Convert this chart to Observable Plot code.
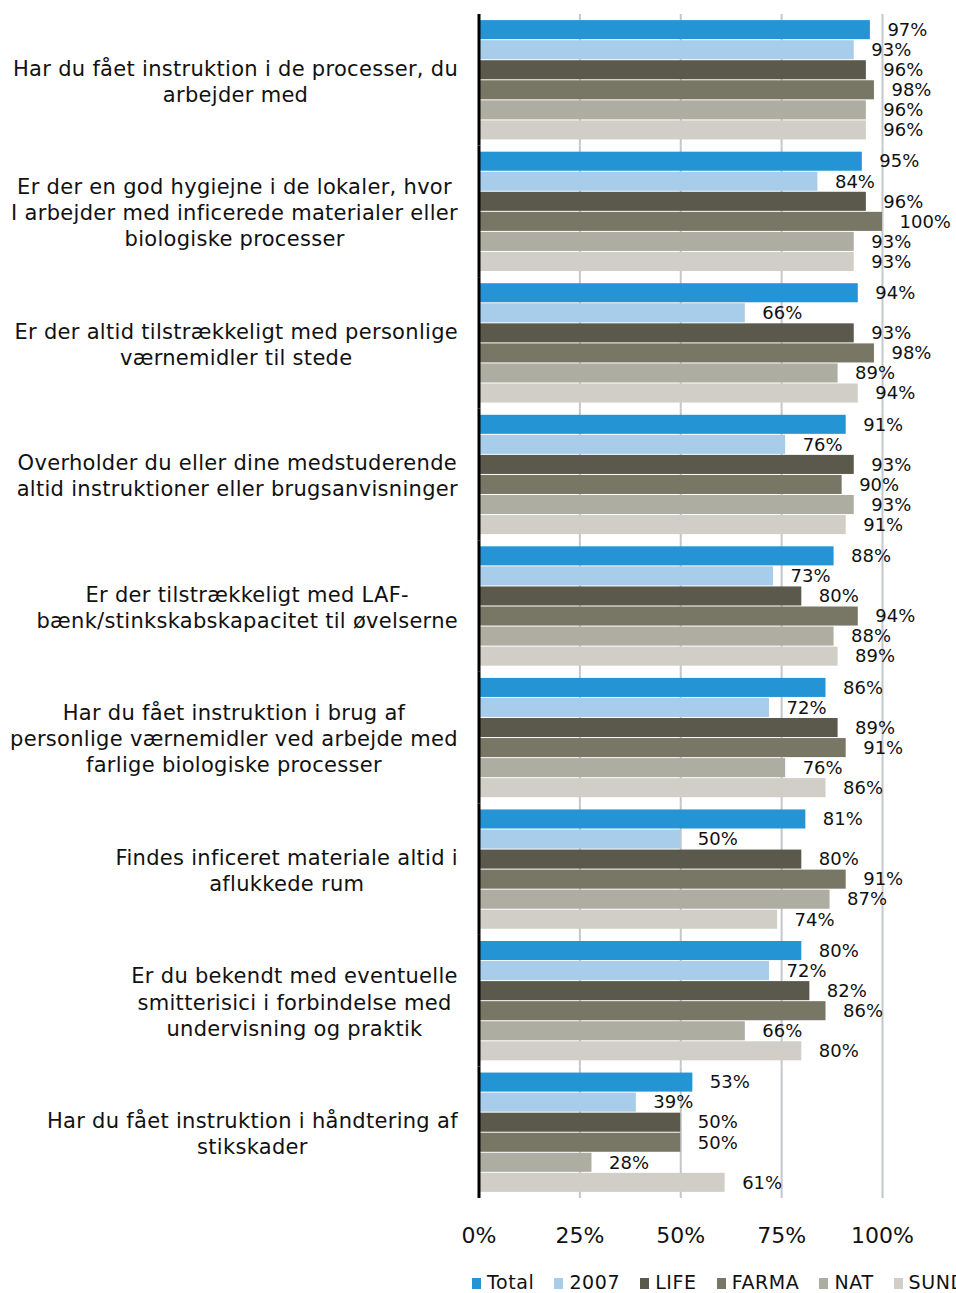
<!DOCTYPE html>
<html>
<head>
<meta charset="utf-8">
<script src="https://cdn.jsdelivr.net/npm/d3@7"></script>
<script src="https://cdn.jsdelivr.net/npm/@observablehq/plot@0.6"></script>
<style>
  html, body { margin: 0; padding: 0; background: #fff; overflow: hidden; width: 956px; height: 1293px; }
  #wrap { position: relative; width: 956px; height: 1293px; font-family: "DejaVu Sans", Verdana, sans-serif; overflow: hidden; }
  #chart svg { display: block; }
  #legend { position: absolute; top: 1273px; left: 472px; display: flex; white-space: nowrap; font-size: 19px; letter-spacing: 0.6px; line-height: 19px; height: 19px; color: #111; }
  #legend .item { display: inline-flex; align-items: center; margin-right: 20px; }
  #legend .sw { display: inline-block; width: 9px; height: 11px; margin-right: 6px; position: relative; top: 1px; }
</style>
</head>
<body>
<div id="wrap"><div id="chart"></div><div id="legend"></div></div>
<script>
const questions = [
  "Har du fået instruktion i de processer, du\narbejder med",
  "Er der en god hygiejne i de lokaler, hvor\nI arbejder med inficerede materialer eller\nbiologiske processer",
  "Er der altid tilstrækkeligt med personlige\nværnemidler til stede",
  "Overholder du eller dine medstuderende\naltid instruktioner eller brugsanvisninger",
  "Er der tilstrækkeligt med LAF-\nbænk/stinkskabskapacitet til øvelserne",
  "Har du fået instruktion i brug af\npersonlige værnemidler ved arbejde med\nfarlige biologiske processer",
  "Findes inficeret materiale altid i\naflukkede rum",
  "Er du bekendt med eventuelle\nsmitterisici i forbindelse med\nundervisning og praktik",
  "Har du fået instruktion i håndtering af\nstikskader"
];
const series = ["Total", "2007", "LIFE", "FARMA", "NAT", "SUND"];
const colors = ["#2494d4", "#a7cdeb", "#5b584c", "#787664", "#aeada1", "#d0cec6"];

const totalVals = [97, 95, 94, 91, 88, 86, 81, 80, 53];
const y2007Vals = [93, 84, 66, 76, 73, 72, 50, 72, 39];
const lifeVals  = [96, 96, 93, 93, 80, 89, 80, 82, 50];
const farmaVals = [98, 100, 98, 90, 94, 91, 91, 86, 50];
const natVals   = [96, 93, 89, 93, 88, 76, 87, 66, 28];
const sundVals  = [96, 93, 94, 91, 89, 86, 74, 80, 61];

const xTicks = [0, 0.25, 0.5, 0.75, 1];

const seriesValues = [totalVals, y2007Vals, lifeVals, farmaVals, natVals, sundVals];
const data = [];
questions.forEach((q, qi) => {
  series.forEach((s, si) => {
    data.push({question: q, series: s, value: seriesValues[si][qi]});
  });
});

const plot = Plot.plot({
  width: 956,
  height: 1262,
  marginLeft: 478.5,
  marginRight: 74,
  marginTop: 14,
  marginBottom: 64,
  style: {fontFamily: "DejaVu Sans, Verdana, sans-serif", fontSize: "22px", color: "#111", background: "#fff"},
  x: {domain: [0, 1], ticks: xTicks, tickFormat: d3.format(".0%"), tickSize: 0, tickPadding: 29, label: null},
  y: {domain: series, padding: 0, paddingOuter: 0.28, round: false, axis: null},
  fy: {domain: questions, padding: 0, round: false, axis: null},
  facet: {marginTop: 0, marginBottom: 0, marginLeft: 0, marginRight: 0},
  color: {domain: series, range: colors},
  marks: [
    Plot.ruleX(xTicks.slice(1), {stroke: "#c3c7cb", strokeWidth: 2}),
    Plot.barX(data, {x: d => d.value / 100, y: "series", fy: "question", fill: "series", insetTop: 0.5, insetBottom: 0.5}),
    Plot.ruleX([0], {stroke: "#000", strokeWidth: 3}),
    Plot.text(data, {x: d => d.value / 100, y: "series", fy: "question", text: d => d.value + "%", dx: 17, textAnchor: "start", fontSize: 18, fill: "#111", style: "letter-spacing:0.4px"}),
    Plot.text(questions, {fy: d => d, text: d => d, frameAnchor: "left", dx: -21, textAnchor: "end", lineHeight: 1.24, fontSize: 21, fill: "#111"})
  ]
});

document.getElementById("chart").appendChild(plot);

// center the lines of each question label inside a right-aligned block
const textGroups = plot.querySelectorAll('g[aria-label="text"]');
const qGroup = textGroups[textGroups.length - 1];
qGroup.style.letterSpacing = "0.3px";
qGroup.querySelectorAll("text").forEach(t => {
  const w = t.getBBox().width;
  t.setAttribute("text-anchor", "middle");
  const tr = t.getAttribute("transform") || "";
  t.setAttribute("transform", tr + ` translate(${-w / 2},0)`);
});

// legend
const legend = document.getElementById("legend");
series.forEach((s, i) => {
  const item = document.createElement("span");
  item.className = "item";
  const sw = document.createElement("span");
  sw.className = "sw";
  sw.style.background = colors[i];
  item.appendChild(sw);
  item.appendChild(document.createTextNode(s));
  legend.appendChild(item);
});
</script>
</body>
</html>
